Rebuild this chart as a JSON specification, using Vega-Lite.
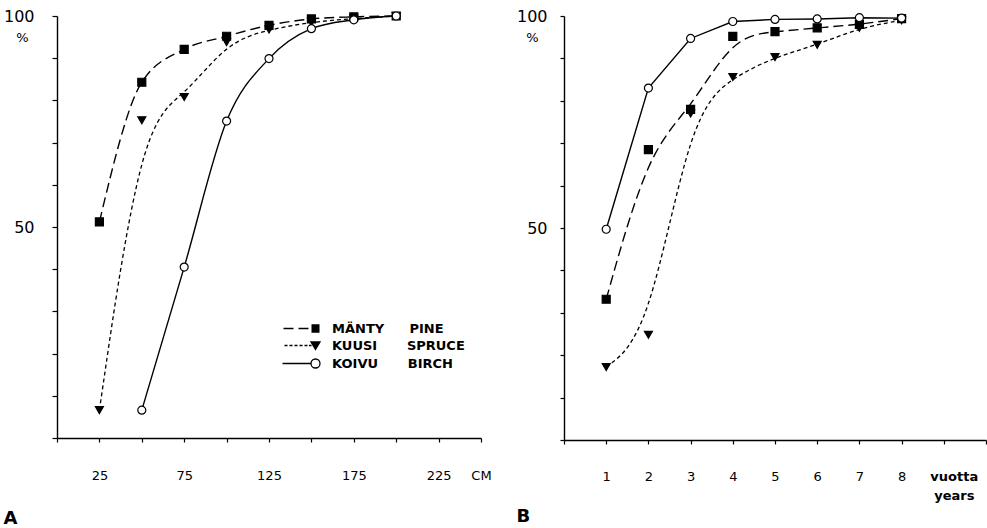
{
  "$schema": "https://vega.github.io/schema/vega-lite/v6.json",
  "background": "white",
  "padding": {"left": 3, "top": 8, "right": 0, "bottom": 0},
  "spacing": 24,
  "config": {
    "view": {"stroke": null},
    "font": "DejaVu Sans",
    "axis": {"domainColor": "black", "tickColor": "black", "labelColor": "black", "labelFont": "DejaVu Sans", "grid": false, "domainWidth": 1.4, "tickWidth": 1.2, "titleColor": "black", "titleFont": "DejaVu Sans"}
  },
  "datasets": {
    "A": [
      {"species": "MÄNTY", "x": 25, "v": 51.2}, {"species": "MÄNTY", "x": 50, "v": 84.3}, {"species": "MÄNTY", "x": 75, "v": 92.1}, {"species": "MÄNTY", "x": 100, "v": 95.2}, {"species": "MÄNTY", "x": 125, "v": 97.8}, {"species": "MÄNTY", "x": 150, "v": 99.3}, {"species": "MÄNTY", "x": 175, "v": 99.8}, {"species": "MÄNTY", "x": 200, "v": 100},
      {"species": "KUUSI", "x": 25, "v": 6.6}, {"species": "KUUSI", "x": 50, "v": 75.3}, {"species": "KUUSI", "x": 75, "v": 80.8}, {"species": "KUUSI", "x": 100, "v": 93.8}, {"species": "KUUSI", "x": 125, "v": 96.8}, {"species": "KUUSI", "x": 150, "v": 98.6}, {"species": "KUUSI", "x": 175, "v": 99.4}, {"species": "KUUSI", "x": 200, "v": 100},
      {"species": "KOIVU", "x": 50, "v": 6.6}, {"species": "KOIVU", "x": 75, "v": 40.5}, {"species": "KOIVU", "x": 100, "v": 75.1}, {"species": "KOIVU", "x": 125, "v": 89.9}, {"species": "KOIVU", "x": 150, "v": 97}, {"species": "KOIVU", "x": 175, "v": 99.1}, {"species": "KOIVU", "x": 200, "v": 100}
    ],
    "B": [
      {"species": "MÄNTY", "x": 1, "v": 33.2}, {"species": "MÄNTY", "x": 2, "v": 68.5}, {"species": "MÄNTY", "x": 3, "v": 78.0}, {"species": "MÄNTY", "x": 4, "v": 95.2}, {"species": "MÄNTY", "x": 5, "v": 96.3}, {"species": "MÄNTY", "x": 6, "v": 97.2}, {"species": "MÄNTY", "x": 7, "v": 98.0}, {"species": "MÄNTY", "x": 8, "v": 99.4},
      {"species": "KUUSI", "x": 1, "v": 17.2}, {"species": "KUUSI", "x": 2, "v": 24.8}, {"species": "KUUSI", "x": 3, "v": 77.0}, {"species": "KUUSI", "x": 4, "v": 85.6}, {"species": "KUUSI", "x": 5, "v": 90.3}, {"species": "KUUSI", "x": 6, "v": 93.2}, {"species": "KUUSI", "x": 7, "v": 97.2}, {"species": "KUUSI", "x": 8, "v": 99.0},
      {"species": "KOIVU", "x": 1, "v": 49.7}, {"species": "KOIVU", "x": 2, "v": 83.0}, {"species": "KOIVU", "x": 3, "v": 94.7}, {"species": "KOIVU", "x": 4, "v": 98.7}, {"species": "KOIVU", "x": 5, "v": 99.2}, {"species": "KOIVU", "x": 6, "v": 99.3}, {"species": "KOIVU", "x": 7, "v": 99.6}, {"species": "KOIVU", "x": 8, "v": 99.5}
    ]
  },
  "resolve": {"scale": {"shape": "independent", "x": "independent", "y": "independent"}, "legend": {"shape": "independent"}},
  "hconcat": [
    {
      "width": 424,
      "height": 422,
      "title": {"text": "A", "orient": "bottom", "anchor": "start", "fontSize": 18, "fontWeight": "bold", "offset": 28, "color": "black"},
      "data": {"name": "A"},
      "resolve": {"scale": {"shape": "independent"}, "legend": {"shape": "independent"}},
      "encoding": {
        "x": {"field": "x", "type": "quantitative", "scale": {"domain": [0, 250], "nice": false, "zero": false},
          "axis": {"title": null, "values": [0, 25, 50, 75, 100, 125, 150, 175, 200, 225, 250], "labelExpr": "datum.value == 250 ? 'CM' : (datum.value % 50 == 25 ? datum.label : '')", "tickSize": 4, "labelPadding": 27, "labelFontSize": 13, "labelFlush": false, "labelOverlap": false}},
        "y": {"field": "v", "type": "quantitative", "scale": {"domain": [0, 100], "nice": false},
          "axis": {"title": "%", "titleAngle": 0, "titleX": -35, "titleY": 21, "titleFontSize": 13, "titleFontWeight": "normal", "titleAlign": "center", "titleBaseline": "middle", "values": [0, 10, 20, 30, 40, 50, 60, 70, 80, 90, 100], "labelExpr": "datum.value == 50 || datum.value == 100 ? datum.label : ''", "tickSize": 5, "labelPadding": 18, "labelFontSize": 16, "labelOverlap": false}}
      },
      "layer": [
        {"transform": [{"filter": "datum.species == 'MÄNTY'"}], "mark": {"type": "line", "interpolate": "monotone", "color": "black", "strokeWidth": 1.4, "strokeDash": [10, 5]}},
        {"transform": [{"filter": "datum.species == 'KUUSI'"}], "mark": {"type": "line", "interpolate": "basis", "color": "black", "strokeWidth": 1.3, "strokeDash": [4, 3]}},
        {"transform": [{"filter": "datum.species == 'KOIVU'"}], "mark": {"type": "line", "interpolate": "monotone", "color": "black", "strokeWidth": 1.4}},
        {
          "mark": {"type": "point", "filled": true, "size": 64, "strokeWidth": 1.2, "opacity": 1},
          "encoding": {
            "shape": {"field": "species", "type": "nominal", "scale": {"domain": ["MÄNTY", "KUUSI", "KOIVU"], "range": ["square", "triangle-down", "circle"]}, "legend": null},
            "fill": {"condition": {"test": "datum.species == 'KOIVU'", "value": "white"}, "value": "black"},
            "stroke": {"value": "black"}
          }
        },
        {
          "mark": {"type": "point", "filled": false, "opacity": 0, "color": "black", "strokeWidth": 1.3},
          "encoding": {
            "shape": {"field": "species", "type": "nominal",
              "scale": {"domain": ["MÄNTY", "KUUSI", "KOIVU"], "range": [
                "M-6.4,0H-4.4M-3.4,0H-1.4M-0.8,-0.7H0.8M-0.8,-0.5H0.8M-0.8,-0.3H0.8M-0.8,-0.1H0.8M-0.8,0.1H0.8M-0.8,0.3H0.8M-0.8,0.5H0.8M-0.8,0.7H0.8",
                "M-6.2,0H-5.6M-5.2,0H-4.6M-4.2,0H-3.6M-3.2,0H-2.6M-2.2,0H-1.6M-1.3,0H-0.8M-0.9,-0.7H0.9L0,0.8ZM-0.78,-0.5H0.78M-0.66,-0.3H0.66M-0.54,-0.1H0.54M-0.42,0.1H0.42M-0.3,0.3H0.3M-0.18,0.5H0.18",
                "M-6.6,0H-0.9M-0.9,0A0.9,0.9 0 1,1 0.9,0A0.9,0.9 0 1,1 -0.9,0"
              ]},
              "legend": {
                "orient": "none", "legendX": 252, "legendY": 306, "title": null, "padding": 0,
                "symbolSize": 100, "symbolOpacity": 1, "symbolStrokeColor": "black", "symbolStrokeWidth": 1.3, "symbolFillColor": "transparent",
                "labelOffset": 10, "rowPadding": 3,
                "labelFont": "DejaVu Sans", "labelFontWeight": "bold", "labelFontSize": 13, "labelColor": "black",
                "labelExpr": "datum.label == 'MÄNTY' ? 'MÄNTY\u00a0\u00a0\u00a0\u00a0\u00a0\u2009PINE' : (datum.label == 'KUUSI' ? 'KUUSI\u00a0\u00a0\u00a0\u00a0\u00a0\u00a0\u2009SPRUCE' : 'KOIVU\u00a0\u00a0\u00a0\u00a0\u00a0\u00a0\u2009BIRCH')"
              }}
          }
        }
      ]
    },
    {
      "width": 422,
      "height": 424,
      "title": {"text": "B", "orient": "bottom", "anchor": "start", "fontSize": 18, "fontWeight": "bold", "offset": 6, "color": "black"},
      "data": {"name": "B"},
      "encoding": {
        "x": {"field": "x", "type": "quantitative", "scale": {"domain": [0, 10], "nice": false, "zero": false},
          "axis": {"title": null, "values": [0, 1, 2, 3, 4, 5, 6, 7, 8, 9, 10], "labelExpr": "datum.value >= 1 && datum.value <= 8 ? datum.label : (datum.value == 9 ? ['vuotta', 'years'] : '')",
            "labelFontWeight": {"condition": {"test": "datum.value == 9", "value": "bold"}, "value": "normal"},
            "labelOffset": {"condition": {"test": "datum.value == 9", "value": 10}, "value": 0},
            "labelLineHeight": 19, "tickSize": 4, "labelPadding": 26, "labelFontSize": 13, "labelFlush": false, "labelOverlap": false}},
        "y": {"field": "v", "type": "quantitative", "scale": {"domain": [0, 100], "nice": false},
          "axis": {"title": "%", "titleAngle": 0, "titleX": -32, "titleY": 21, "titleFontSize": 13, "titleFontWeight": "normal", "titleAlign": "center", "titleBaseline": "middle", "values": [0, 10, 20, 30, 40, 50, 60, 70, 80, 90, 100], "labelExpr": "datum.value == 50 || datum.value == 100 ? datum.label : ''", "tickSize": 4, "labelPadding": 13, "labelFontSize": 16, "labelOverlap": false}}
      },
      "layer": [
        {"transform": [{"filter": "datum.species == 'MÄNTY'"}], "mark": {"type": "line", "interpolate": "basis", "color": "black", "strokeWidth": 1.4, "strokeDash": [10, 5]}},
        {"transform": [{"filter": "datum.species == 'KUUSI'"}], "mark": {"type": "line", "interpolate": "basis", "color": "black", "strokeWidth": 1.3, "strokeDash": [4, 3]}},
        {"transform": [{"filter": "datum.species == 'KOIVU'"}], "mark": {"type": "line", "interpolate": "linear", "color": "black", "strokeWidth": 1.4}},
        {
          "mark": {"type": "point", "filled": true, "size": 64, "strokeWidth": 1.2, "opacity": 1},
          "encoding": {
            "shape": {"field": "species", "type": "nominal", "scale": {"domain": ["MÄNTY", "KUUSI", "KOIVU"], "range": ["square", "triangle-down", "circle"]}, "legend": null},
            "fill": {"condition": {"test": "datum.species == 'KOIVU'", "value": "white"}, "value": "black"},
            "stroke": {"value": "black"}
          }
        }
      ]
    }
  ]
}
